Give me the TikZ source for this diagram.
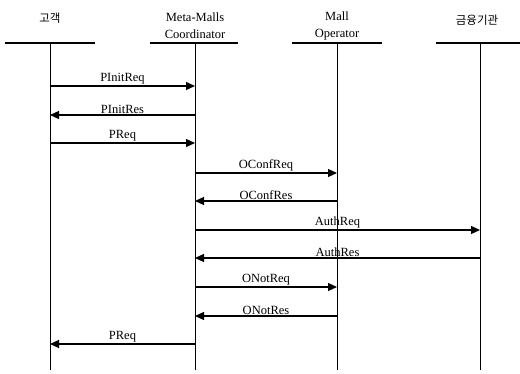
\documentclass[tikz,border=0pt]{standalone}
\usepackage{fontspec}
\setmainfont{Liberation Serif}
\newfontfamily\kofont{Noto Sans CJK KR}
\usetikzlibrary{arrows.meta}
\tikzset{
  headtxt/.style={font=\fontsize{12.5}{13}\selectfont, align=center, inner sep=0pt},
  kotxt/.style={font=\kofont\fontsize{11.5}{12}\selectfont, inner sep=0pt},
  headline/.style={line width=1.5pt},
  life/.style={line width=1pt},
  msg/.style={line width=1.2pt, -{Triangle[length=9pt,width=8pt]}},
  lbl/.style={font=\fontsize{12.5}{13}\selectfont, inner sep=0pt, above=1pt}
}
\begin{document}
\begin{tikzpicture}[x=1pt,y=-1pt]
\useasboundingbox (0,0) rectangle (520,374);
% headers
\node[kotxt] (h1) at (50,18) {고객};
\node[headtxt] (h2) at (195,26) {Meta-Malls\\[4pt]Coordinator};
\node[headtxt] (h3) at (337,26) {Mall\\[4pt]Operator};
\node[kotxt] (h4) at (477,20) {금융기관};
% header lines
\coordinate (b1l) at (5,43);   \coordinate (b1r) at (95,43);
\coordinate (b2l) at (150,43); \coordinate (b2r) at (238,43);
\coordinate (b3l) at (292,43); \coordinate (b3r) at (382,43);
\coordinate (b4l) at (436,43); \coordinate (b4r) at (520,43);
\draw[headline] (b1l) -- (b1r);
\draw[headline] (b2l) -- (b2r);
\draw[headline] (b3l) -- (b3r);
\draw[headline] (b4l) -- (b4r);
% lifelines
\coordinate (t1) at (50,43);  \coordinate (e1) at (50,370);
\coordinate (t2) at (195,43); \coordinate (e2) at (195,370);
\coordinate (t3) at (337,43); \coordinate (e3) at (337,370);
\coordinate (t4) at (480,43); \coordinate (e4) at (480,370);
\draw[life] (t1) -- (e1);
\draw[life] (t2) -- (e2);
\draw[life] (t3) -- (e3);
\draw[life] (t4) -- (e4);
% message end points
\coordinate (m1a) at (50,86);   \coordinate (m1b) at (195,86);
\coordinate (m2a) at (50,115);  \coordinate (m2b) at (195,115);
\coordinate (m3a) at (50,143);  \coordinate (m3b) at (195,143);
\coordinate (m4a) at (195,173); \coordinate (m4b) at (337,173);
\coordinate (m5a) at (195,201); \coordinate (m5b) at (337,201);
\coordinate (m6a) at (195,230); \coordinate (m6b) at (480,230);
\coordinate (m7a) at (195,258); \coordinate (m7b) at (480,258);
\coordinate (m8a) at (195,287); \coordinate (m8b) at (337,287);
\coordinate (m9a) at (195,316); \coordinate (m9b) at (337,316);
\coordinate (m10a) at (50,344); \coordinate (m10b) at (195,344);
% messages
\draw[msg] (m1a) -- node[lbl] (l1) {PInitReq} (m1b);
\draw[msg] (m2b) -- node[lbl] (l2) {PInitRes} (m2a);
\draw[msg] (m3a) -- node[lbl] (l3) {PReq} (m3b);
\draw[msg] (m4a) -- node[lbl] (l4) {OConfReq} (m4b);
\draw[msg] (m5b) -- node[lbl] (l5) {OConfRes} (m5a);
\draw[msg] (m6a) -- node[lbl] (l6) {AuthReq} (m6b);
\draw[msg] (m7b) -- node[lbl] (l7) {AuthRes} (m7a);
\draw[msg] (m8a) -- node[lbl] (l8) {ONotReq} (m8b);
\draw[msg] (m9b) -- node[lbl] (l9) {ONotRes} (m9a);
\draw[msg] (m10b) -- node[lbl] (l10) {PReq} (m10a);
\end{tikzpicture}
\end{document}
